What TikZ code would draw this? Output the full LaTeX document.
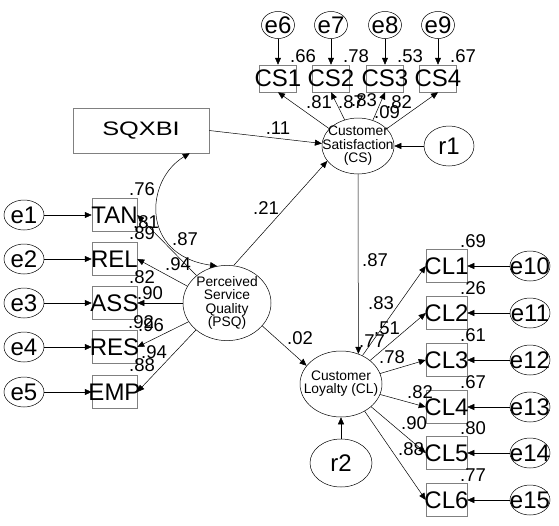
\documentclass[tikz,border=0pt]{standalone}
\usepackage{fontspec}
\setmainfont{Liberation Sans}
\usetikzlibrary{arrows.meta,shapes.geometric}
\newcommand\boxfont{\fontsize{24}{24}\selectfont}
\newcommand\coeffont{\fontsize{18.5}{18.5}\selectfont}
\newcommand\latfont{\fontsize{13.8}{11}\selectfont}
\newcommand\fixw[1]{\makebox[0pt]{#1}}
\newcommand\stack[1]{\makebox[0pt]{\begin{tabular}{@{}c@{}}#1\end{tabular}}}

\begin{document}
\begin{tikzpicture}[x=1pt,y=-1pt,line width=0.5pt,
    arr/.style={-{Triangle[length=7pt,width=6pt]}},
    dbl/.style={{Triangle[length=7pt,width=6pt]}-{Triangle[length=7pt,width=6pt]}},
    obs/.style={draw=gray,inner sep=0pt,minimum width=41pt,minimum height=33pt,font=\boxfont},
    err/.style={draw,ellipse,inner sep=0pt,minimum width=40pt,minimum height=30pt,font=\boxfont},
    lat/.style={draw,ellipse,inner sep=0pt,font=\latfont},
    coef/.style={inner sep=0pt,font=\coeffont}]
    \useasboundingbox (0,0) rectangle (559,525);

    % satisfaction side
    \node[err,minimum width=33pt,minimum height=27pt] (e6) at (278,25) {\fixw{e6}};
    \node[err,minimum width=33pt,minimum height=27pt] (e7) at (331,25) {\fixw{e7}};
    \node[err,minimum width=33pt,minimum height=27pt] (e8) at (385,25) {\fixw{e8}};
    \node[err,minimum width=33pt,minimum height=27pt] (e9) at (438,25) {\fixw{e9}};
    \node[obs,minimum width=37pt,minimum height=27pt] (cs1) at (278,78.5) {\fixw{CS1}};
    \node[obs,minimum width=37pt,minimum height=27pt] (cs2) at (331,78.5) {\fixw{CS2}};
    \node[obs,minimum width=37pt,minimum height=27pt] (cs3) at (385,78.5) {\fixw{CS3}};
    \node[obs,minimum width=37pt,minimum height=27pt] (cs4) at (438,78.5) {\fixw{CS4}};
    \node[lat,minimum width=72pt,minimum height=54pt] (cs) at (358,146) {\stack{Customer\\Satisfaction\\(CS)}};
    \node[err,minimum width=50pt,minimum height=40pt] (r1) at (449,146) {\fixw{r1}};
    \node[draw=gray,inner sep=0pt,minimum width=136pt,minimum height=45pt] (sq) at (141,130.5) {\scalebox{1.3}[1]{\fontsize{19.5}{19.5}\selectfont SQXBI}};

    % quality side
    \foreach \n/\t/\y in {1/TAN/215,2/REL/259,3/ASS/303,4/RES/347,5/EMP/392} {
        \node[err] (e\n) at (24,\y) {\fixw{e\n}};
        \node[obs,minimum width=45pt] (\t) at (114.5,\y) {\fixw{\t}};
        \draw[arr] (e\n) -- (\t);
    }
    \node[lat,minimum width=88pt,minimum height=64pt] (psq) at (227,303) {\stack{Perceived\\Service\\Quality\\(PSQ)}};

    % loyalty side
    \node[lat,minimum width=82pt,minimum height=66pt] (cl) at (341,384) {\stack{Customer\\Loyalty (CL)}};
    \node[err,minimum width=62pt,minimum height=48pt] (r2) at (341,463) {\fixw{r2}};
    \foreach \n/\y in {1/266,2/313,3/360,4/407,5/453,6/500} {
        \node[obs] (cl\n) at (446.5,\y) {\fixw{CL\n}};
        \pgfmathtruncatemacro\k{\n+9}
        \node[err] (e\k) at (530,\y) {\fixw{e\k}};
        \draw[arr] (e\k) -- (cl\n);
    }

    % paths
    \draw[arr] (e6) -- (cs1);
    \draw[arr] (e7) -- (cs2);
    \draw[arr] (e8) -- (cs3);
    \draw[arr] (e9) -- (cs4);
    \draw[arr] (cs.149) -- (cs1.south);
    \draw[arr] (cs.117) -- (cs2.south);
    \draw[arr] (cs.60) -- (cs3.south);
    \draw[arr] (cs.31) -- (cs4.south);
    \draw[arr] (r1) -- (cs);
    \draw[arr] (sq.east) -- (cs.176);
    \draw[dbl] (sq.335) .. controls (145,180) and (140,255) .. (psq.105);
    \draw[arr] (psq.138) -- (TAN.east);
    \draw[arr] (psq.157) -- (REL.east);
    \draw[arr] (psq.west) -- (ASS.east);
    \draw[arr] (psq.206) -- (RES.east);
    \draw[arr] (psq.221) -- (EMP.east);
    \draw[arr] (psq.80) -- (cs.206);
    \draw[arr] (psq.327) -- (cl.152);
    \draw[arr] (cs.south) -- (cl.60);
    \draw[arr] (r2) -- (cl);
    \draw[arr] (cl.53) -- (cl1.west);
    \draw[arr] (cl.39) -- (cl2.west);
    \draw[arr] (cl.15) -- (cl3.west);
    \draw[arr] (cl.345) -- (cl4.west);
    \draw[arr] (cl.323) -- (cl5.west);
    \draw[arr] (cl.311) -- (cl6.west);

    % estimates
    \foreach \v/\x/\y in {.66/303/56,.78/356/56,.53/410/56,.67/463/56,
        .81/319/102,.87/351/102,.83/364/100,.09/387/112,.82/399/102,
        .11/278/128,.21/266/208,.76/142/189,.81/146/222,.89/142/233,
        .87/185/239,.94/178/264,.82/142/277,.90/150/293,.92/141/322,
        .96/151/325,.94/154/352,.88/142/365,.02/300/338,.87/375/260,
        .83/381/303,.51/387/328,.77/372/341,.78/392/357,.82/420/392,
        .90/414/423,.88/411/449,.69/473/241,.26/473/288,.61/473/335,
        .67/473/382,.80/473/428,.77/473/475}
        \node[coef] at (\x,\y) {\v};
\end{tikzpicture}
\end{document}
